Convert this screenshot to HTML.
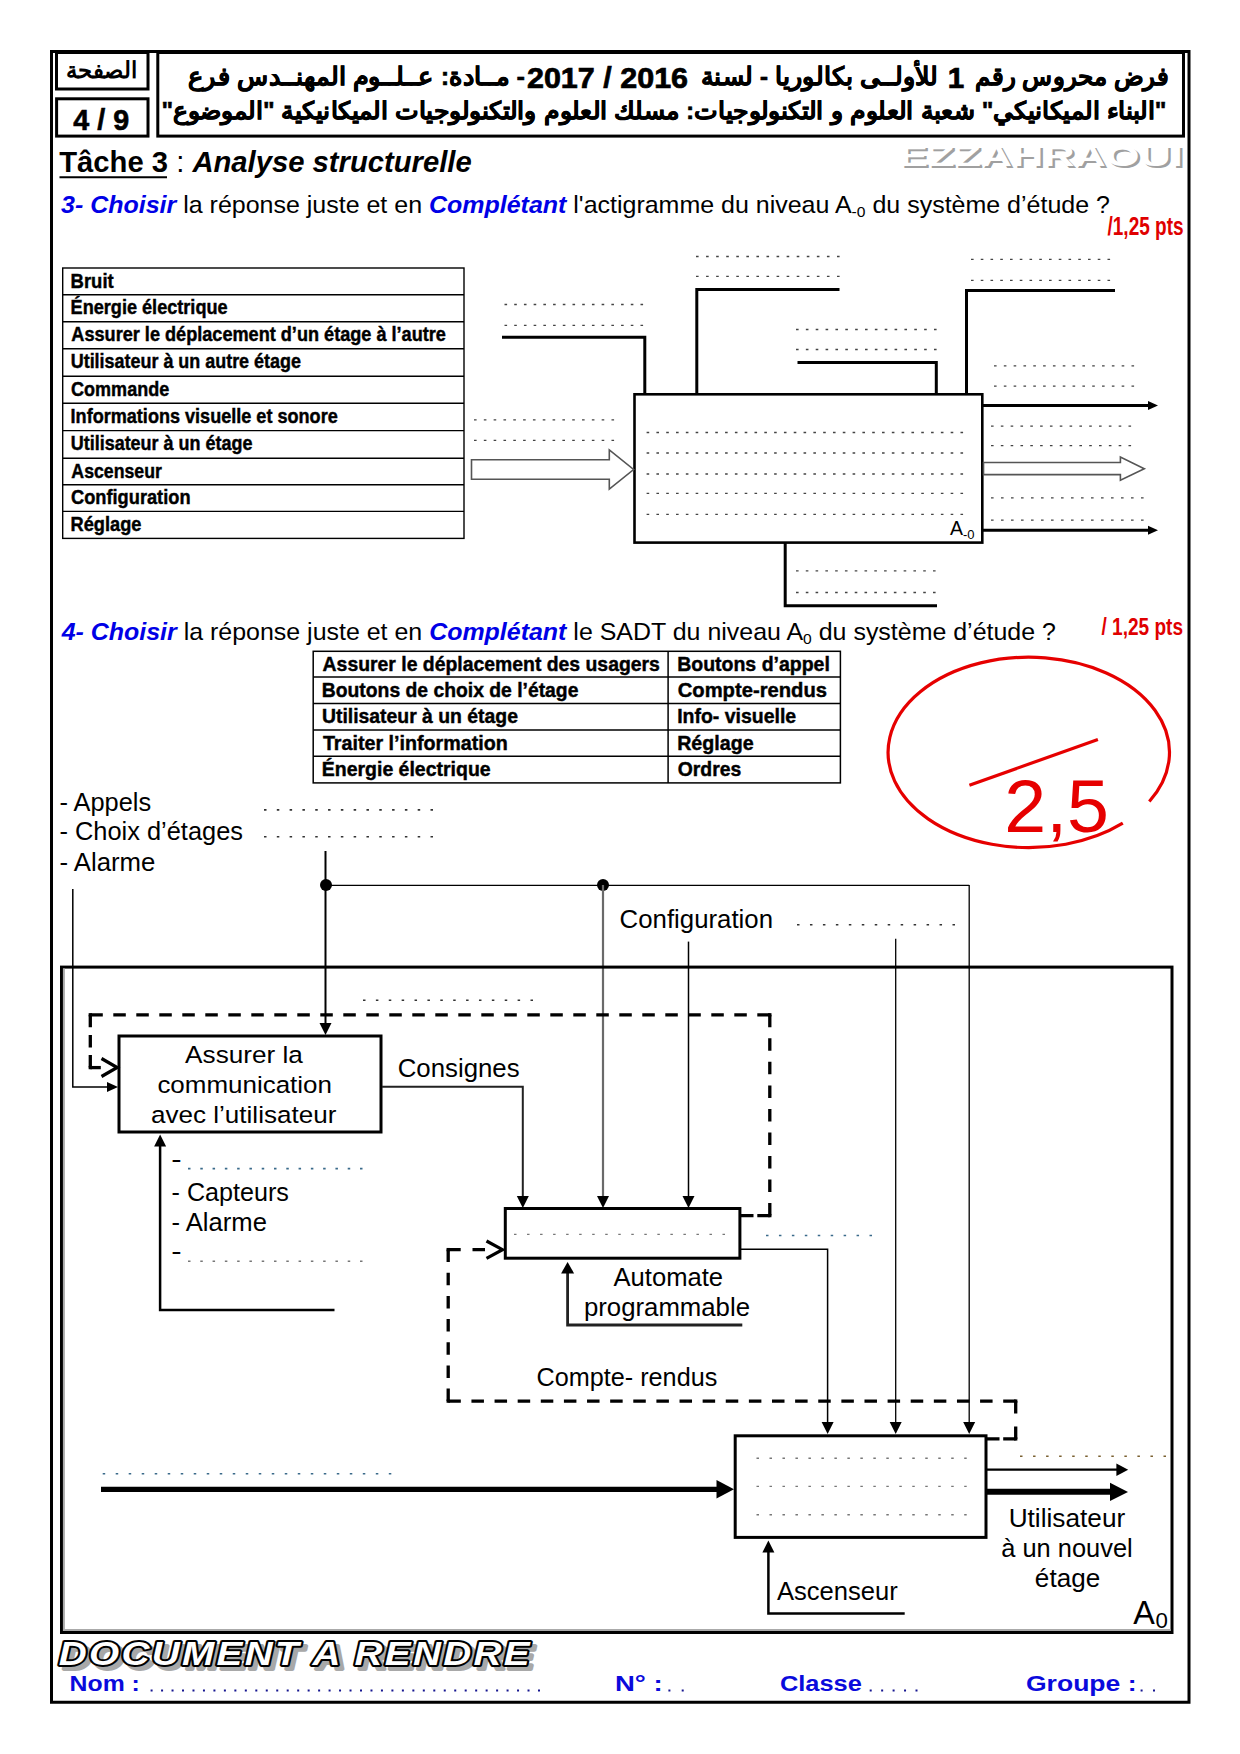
<!DOCTYPE html>
<html><head><meta charset="utf-8">
<style>
*{margin:0;padding:0}
html,body{width:1240px;height:1754px;background:#fff;overflow:hidden}
body{position:relative;font-family:"Liberation Sans",sans-serif}
svg{position:absolute;left:0;top:0}
</style></head><body>
<svg width="1240" height="1754" viewBox="0 0 1240 1754">
<rect x="51.5" y="51.5" width="1137.50" height="1650.75" fill="none" stroke="#000" stroke-width="3"/>
<rect x="56.5" y="52.5" width="91.50" height="36.50" fill="none" stroke="#000" stroke-width="3"/>
<rect x="56.6" y="98.8" width="91.40" height="37.30" fill="none" stroke="#000" stroke-width="3"/>
<rect x="157.8" y="52.5" width="1025.70" height="83.60" fill="none" stroke="#000" stroke-width="3"/>
<text x="66" y="78" font-size="23" font-weight="bold" font-family="Liberation Sans" textLength="71" lengthAdjust="spacingAndGlyphs" unicode-bidi="plaintext">الصفحة</text>
<text x="73.32" y="130" font-size="29.2" font-family="Liberation Sans" fill="#000" textLength="55.81" lengthAdjust="spacingAndGlyphs" stroke="#000" stroke-width="0.6"><tspan font-weight="bold" font-style="normal" >4 / 9</tspan></text>
<text x="975.3" y="84.5" font-size="25" font-weight="bold" font-family="Liberation Sans" textLength="193.4" lengthAdjust="spacingAndGlyphs" unicode-bidi="plaintext" stroke="#000" stroke-width="0.5">فرض محروس رقم</text>
<text x="947.8" y="87.7" font-size="29.6" font-weight="bold" font-style="normal" fill="#000" font-family="Liberation Sans" text-anchor="start" stroke="#000" stroke-width="0.7">1</text>
<text x="701.4" y="84.5" font-size="25" font-weight="bold" font-family="Liberation Sans" textLength="237.1" lengthAdjust="spacingAndGlyphs" unicode-bidi="plaintext" stroke="#000" stroke-width="0.5">للأولــى بكالوريا - لسنة</text>
<text x="526.93" y="87.6" font-size="29.6" font-family="Liberation Sans" fill="#000" textLength="161.15" lengthAdjust="spacingAndGlyphs" stroke="#000" stroke-width="0.7"><tspan font-weight="bold" font-style="normal" >2017 / 2016</tspan></text>
<text x="188" y="84.5" font-size="25" font-weight="bold" font-family="Liberation Sans" textLength="337.0" lengthAdjust="spacingAndGlyphs" unicode-bidi="plaintext" stroke="#000" stroke-width="0.5">- مــادة: عــلــوم المهنــدس فرع</text>
<text x="161.5" y="119.2" font-size="23.5" font-weight="bold" font-family="Liberation Sans" textLength="1005.0" lengthAdjust="spacingAndGlyphs" unicode-bidi="plaintext" stroke="#000" stroke-width="0.5">"البناء الميكانيكي" شعبة العلوم و التكنولوجيات: مسلك العلوم والتكنولوجيات الميكانيكية "الموضوع"</text>
<text x="59.21" y="171.8" font-size="29.4" font-family="Liberation Sans" fill="#000" textLength="412.52" lengthAdjust="spacingAndGlyphs" ><tspan font-weight="bold" font-style="normal" >Tâche 3</tspan><tspan font-weight="normal" font-style="normal" > : </tspan><tspan font-weight="bold" font-style="italic" >Analyse structurelle</tspan></text>
<line x1="59.5" y1="177.2" x2="167" y2="177.2" stroke="#000" stroke-width="2" />
<text x="61.06" y="212.8" font-size="24.8" font-family="Liberation Sans" fill="#000" textLength="1048.84" lengthAdjust="spacingAndGlyphs" ><tspan font-weight="bold" font-style="italic" fill="#0000e6">3- Choisir</tspan><tspan font-weight="normal" font-style="normal" > la réponse juste et en </tspan><tspan font-weight="bold" font-style="italic" fill="#0000e6">Complétant</tspan><tspan font-weight="normal" font-style="normal" > l'actigramme du niveau A</tspan><tspan font-weight="normal" font-style="normal" font-size="15.5" dy="4">-0</tspan><tspan font-weight="normal" font-style="normal" dy="-4"> du système d’étude ?</tspan></text>
<text x="61.68" y="639.5" font-size="24.8" font-family="Liberation Sans" fill="#000" textLength="994.22" lengthAdjust="spacingAndGlyphs" ><tspan font-weight="bold" font-style="italic" fill="#0000e6">4- Choisir</tspan><tspan font-weight="normal" font-style="normal" > la réponse juste et en </tspan><tspan font-weight="bold" font-style="italic" fill="#0000e6">Complétant</tspan><tspan font-weight="normal" font-style="normal" > le SADT du niveau A</tspan><tspan font-weight="normal" font-style="normal" font-size="15.5" dy="4">0</tspan><tspan font-weight="normal" font-style="normal" dy="-4"> du système d’étude ?</tspan></text>
<text x="1107.51" y="235.4" font-size="25" font-family="Liberation Sans" fill="#e00000" textLength="76.09" lengthAdjust="spacingAndGlyphs" ><tspan font-weight="bold" font-style="normal" >/1,25 pts</tspan></text>
<text x="1101.51" y="634.8" font-size="23" font-family="Liberation Sans" fill="#e00000" textLength="81.55" lengthAdjust="spacingAndGlyphs" ><tspan font-weight="bold" font-style="normal" >/ 1,25 pts</tspan></text>
<text x="901.58" y="168.3" font-size="30" font-family="Liberation Sans" fill="#a0a0a0" textLength="283.75" lengthAdjust="spacingAndGlyphs" ><tspan font-weight="bold" font-style="normal" >EZZAHRAOUI</tspan></text>
<text x="899.08" y="166" font-size="30" font-family="Liberation Sans" fill="#fff" textLength="283.75" lengthAdjust="spacingAndGlyphs" ><tspan font-weight="bold" font-style="normal" >EZZAHRAOUI</tspan></text>
<rect x="62.7" y="268" width="401.30" height="270.40" fill="none" stroke="#000" stroke-width="1.4"/>
<line x1="62.7" y1="294.7" x2="464" y2="294.7" stroke="#000" stroke-width="1.4" />
<line x1="62.7" y1="321.7" x2="464" y2="321.7" stroke="#000" stroke-width="1.4" />
<line x1="62.7" y1="348.8" x2="464" y2="348.8" stroke="#000" stroke-width="1.4" />
<line x1="62.7" y1="376.2" x2="464" y2="376.2" stroke="#000" stroke-width="1.4" />
<line x1="62.7" y1="403.2" x2="464" y2="403.2" stroke="#000" stroke-width="1.4" />
<line x1="62.7" y1="430.6" x2="464" y2="430.6" stroke="#000" stroke-width="1.4" />
<line x1="62.7" y1="458.3" x2="464" y2="458.3" stroke="#000" stroke-width="1.4" />
<line x1="62.7" y1="484.7" x2="464" y2="484.7" stroke="#000" stroke-width="1.4" />
<line x1="62.7" y1="511.4" x2="464" y2="511.4" stroke="#000" stroke-width="1.4" />
<text x="70.55" y="287.6" font-size="20.6" font-family="Liberation Sans" fill="#000" textLength="43.14" lengthAdjust="spacingAndGlyphs" stroke="#000" stroke-width="0.45"><tspan font-weight="bold" font-style="normal" >Bruit</tspan></text>
<text x="70.58" y="314.3" font-size="20.6" font-family="Liberation Sans" fill="#000" textLength="157.02" lengthAdjust="spacingAndGlyphs" stroke="#000" stroke-width="0.45"><tspan font-weight="bold" font-style="normal" >Énergie électrique</tspan></text>
<text x="71.35" y="341.3" font-size="20.6" font-family="Liberation Sans" fill="#000" textLength="374.58" lengthAdjust="spacingAndGlyphs" stroke="#000" stroke-width="0.45"><tspan font-weight="bold" font-style="normal" >Assurer le déplacement d’un étage à l’autre</tspan></text>
<text x="70.72" y="368.40000000000003" font-size="20.6" font-family="Liberation Sans" fill="#000" textLength="230.20" lengthAdjust="spacingAndGlyphs" stroke="#000" stroke-width="0.45"><tspan font-weight="bold" font-style="normal" >Utilisateur à un autre étage</tspan></text>
<text x="71.08" y="395.8" font-size="20.6" font-family="Liberation Sans" fill="#000" textLength="98.11" lengthAdjust="spacingAndGlyphs" stroke="#000" stroke-width="0.45"><tspan font-weight="bold" font-style="normal" >Commande</tspan></text>
<text x="70.58" y="422.8" font-size="20.6" font-family="Liberation Sans" fill="#000" textLength="267.14" lengthAdjust="spacingAndGlyphs" stroke="#000" stroke-width="0.45"><tspan font-weight="bold" font-style="normal" >Informations visuelle et sonore</tspan></text>
<text x="70.72" y="450.20000000000005" font-size="20.6" font-family="Liberation Sans" fill="#000" textLength="181.69" lengthAdjust="spacingAndGlyphs" stroke="#000" stroke-width="0.45"><tspan font-weight="bold" font-style="normal" >Utilisateur à un étage</tspan></text>
<text x="71.36" y="477.90000000000003" font-size="20.6" font-family="Liberation Sans" fill="#000" textLength="90.49" lengthAdjust="spacingAndGlyphs" stroke="#000" stroke-width="0.45"><tspan font-weight="bold" font-style="normal" >Ascenseur</tspan></text>
<text x="71.07" y="504.3" font-size="20.6" font-family="Liberation Sans" fill="#000" textLength="119.46" lengthAdjust="spacingAndGlyphs" stroke="#000" stroke-width="0.45"><tspan font-weight="bold" font-style="normal" >Configuration</tspan></text>
<text x="70.57" y="531.0" font-size="20.6" font-family="Liberation Sans" fill="#000" textLength="70.83" lengthAdjust="spacingAndGlyphs" stroke="#000" stroke-width="0.45"><tspan font-weight="bold" font-style="normal" >Réglage</tspan></text>
<polyline points="502,337.3 644.8,337.3 644.8,394" fill="none" stroke="#000" stroke-width="3" />
<polyline points="696.8,394 696.8,289.6 839.5,289.6" fill="none" stroke="#000" stroke-width="3" />
<polyline points="797.5,362.6 936.3,362.6 936.3,394" fill="none" stroke="#000" stroke-width="3" />
<polyline points="966.5,394 966.5,290.5 1115,290.5" fill="none" stroke="#000" stroke-width="3" />
<rect x="634.5" y="394.3" width="347.80" height="148.30" fill="none" stroke="#000" stroke-width="2.6"/>
<line x1="983" y1="405.5" x2="1150" y2="405.5" stroke="#000" stroke-width="3" />
<polygon points="1158.0,405.5 1148.0,401.0 1148.0,410.0" fill="#000"/>
<line x1="983" y1="530.3" x2="1150" y2="530.3" stroke="#000" stroke-width="3" />
<polygon points="1158.0,530.3 1148.0,525.8 1148.0,534.8" fill="#000"/>
<polygon points="983.5,462.5 1120.4,462.5 1120.4,457 1144.3,468.7 1120.4,480.3 1120.4,474.6 983.5,474.6" fill="#fff" stroke="#555" stroke-width="1.6"/>
<polygon points="471.5,459.8 609.3,459.8 609.3,449.9 633.6,469.5 609.3,489.1 609.3,479.3 471.5,479.3" fill="#fff" stroke="#555" stroke-width="1.6"/>
<polyline points="785.2,543 785.2,605.8 937,605.8" fill="none" stroke="#000" stroke-width="3" />
<text x="950" y="535" font-size="19.5" font-weight="normal" font-style="normal" fill="#000" font-family="Liberation Sans" text-anchor="start" >A</text>
<text x="963" y="539" font-size="13" font-weight="normal" font-style="normal" fill="#000" font-family="Liberation Sans" text-anchor="start" >-0</text>
<line x1="504.5" y1="304.5" x2="643.10" y2="304.5" stroke="#444" stroke-width="1.3" stroke-dasharray="2.6 7.114"/>
<line x1="504.5" y1="325.3" x2="643.10" y2="325.3" stroke="#444" stroke-width="1.3" stroke-dasharray="2.6 7.114"/>
<line x1="696" y1="256.5" x2="839.60" y2="256.5" stroke="#444" stroke-width="1.3" stroke-dasharray="2.6 7.471"/>
<line x1="696" y1="276.3" x2="839.60" y2="276.3" stroke="#444" stroke-width="1.3" stroke-dasharray="2.6 7.471"/>
<line x1="796" y1="329.5" x2="936.60" y2="329.5" stroke="#444" stroke-width="1.3" stroke-dasharray="2.6 7.257"/>
<line x1="796" y1="349.5" x2="936.60" y2="349.5" stroke="#444" stroke-width="1.3" stroke-dasharray="2.6 7.257"/>
<line x1="971" y1="259.3" x2="1110.10" y2="259.3" stroke="#444" stroke-width="1.3" stroke-dasharray="2.6 7.150"/>
<line x1="971" y1="280.3" x2="1110.10" y2="280.3" stroke="#444" stroke-width="1.3" stroke-dasharray="2.6 7.150"/>
<line x1="994" y1="365.8" x2="1134.10" y2="365.8" stroke="#444" stroke-width="1.3" stroke-dasharray="2.6 7.221"/>
<line x1="994" y1="386.2" x2="1134.10" y2="386.2" stroke="#444" stroke-width="1.3" stroke-dasharray="2.6 7.221"/>
<line x1="991" y1="426.2" x2="1131.10" y2="426.2" stroke="#444" stroke-width="1.3" stroke-dasharray="2.6 7.221"/>
<line x1="991" y1="445.7" x2="1131.10" y2="445.7" stroke="#444" stroke-width="1.3" stroke-dasharray="2.6 7.221"/>
<line x1="991" y1="497.9" x2="1143.60" y2="497.9" stroke="#444" stroke-width="1.3" stroke-dasharray="2.6 7.400"/>
<line x1="991" y1="520.2" x2="1143.60" y2="520.2" stroke="#444" stroke-width="1.3" stroke-dasharray="2.6 7.400"/>
<line x1="474" y1="419.9" x2="614.10" y2="419.9" stroke="#444" stroke-width="1.3" stroke-dasharray="2.6 7.221"/>
<line x1="474" y1="440.3" x2="614.10" y2="440.3" stroke="#444" stroke-width="1.3" stroke-dasharray="2.6 7.221"/>
<line x1="796" y1="570.9" x2="935.60" y2="570.9" stroke="#444" stroke-width="1.3" stroke-dasharray="2.6 7.186"/>
<line x1="796" y1="592.5" x2="935.60" y2="592.5" stroke="#444" stroke-width="1.3" stroke-dasharray="2.6 7.186"/>
<line x1="646.6" y1="432.5" x2="963.10" y2="432.5" stroke="#444" stroke-width="1.3" stroke-dasharray="2.6 7.209"/>
<line x1="646.6" y1="453" x2="963.10" y2="453" stroke="#444" stroke-width="1.3" stroke-dasharray="2.6 7.209"/>
<line x1="646.6" y1="474" x2="963.10" y2="474" stroke="#444" stroke-width="1.3" stroke-dasharray="2.6 7.209"/>
<line x1="646.6" y1="493.3" x2="963.10" y2="493.3" stroke="#444" stroke-width="1.3" stroke-dasharray="2.6 7.209"/>
<line x1="646.6" y1="514.3" x2="963.10" y2="514.3" stroke="#444" stroke-width="1.3" stroke-dasharray="2.6 7.209"/>
<rect x="313.2" y="651.3" width="527.20" height="131.60" fill="none" stroke="#000" stroke-width="1.5"/>
<line x1="313.2" y1="677" x2="840.4" y2="677" stroke="#000" stroke-width="1.5" />
<line x1="313.2" y1="703.5" x2="840.4" y2="703.5" stroke="#000" stroke-width="1.5" />
<line x1="313.2" y1="730" x2="840.4" y2="730" stroke="#000" stroke-width="1.5" />
<line x1="313.2" y1="756.2" x2="840.4" y2="756.2" stroke="#000" stroke-width="1.5" />
<line x1="668.1" y1="651.3" x2="668.1" y2="782.9" stroke="#000" stroke-width="1.5" />
<text x="322.62" y="671.1999999999999" font-size="21" font-family="Liberation Sans" fill="#000" textLength="337.26" lengthAdjust="spacingAndGlyphs" stroke="#000" stroke-width="0.45"><tspan font-weight="bold" font-style="normal" >Assurer le déplacement des usagers</tspan></text>
<text x="677.18" y="671.1999999999999" font-size="21" font-family="Liberation Sans" fill="#000" textLength="152.70" lengthAdjust="spacingAndGlyphs" stroke="#000" stroke-width="0.45"><tspan font-weight="bold" font-style="normal" >Boutons d’appel</tspan></text>
<text x="321.80" y="696.9" font-size="21" font-family="Liberation Sans" fill="#000" textLength="256.64" lengthAdjust="spacingAndGlyphs" stroke="#000" stroke-width="0.45"><tspan font-weight="bold" font-style="normal" >Boutons de choix de l’étage</tspan></text>
<text x="677.69" y="696.9" font-size="21" font-family="Liberation Sans" fill="#000" textLength="149.35" lengthAdjust="spacingAndGlyphs" stroke="#000" stroke-width="0.45"><tspan font-weight="bold" font-style="normal" >Compte-rendus</tspan></text>
<text x="321.94" y="723.4" font-size="21" font-family="Liberation Sans" fill="#000" textLength="196.02" lengthAdjust="spacingAndGlyphs" stroke="#000" stroke-width="0.45"><tspan font-weight="bold" font-style="normal" >Utilisateur à un étage</tspan></text>
<text x="677.19" y="723.4" font-size="21" font-family="Liberation Sans" fill="#000" textLength="118.95" lengthAdjust="spacingAndGlyphs" stroke="#000" stroke-width="0.45"><tspan font-weight="bold" font-style="normal" >Info- visuelle</tspan></text>
<text x="322.90" y="749.9" font-size="21" font-family="Liberation Sans" fill="#000" textLength="184.89" lengthAdjust="spacingAndGlyphs" stroke="#000" stroke-width="0.45"><tspan font-weight="bold" font-style="normal" >Traiter l’information</tspan></text>
<text x="677.17" y="749.9" font-size="21" font-family="Liberation Sans" fill="#000" textLength="76.47" lengthAdjust="spacingAndGlyphs" stroke="#000" stroke-width="0.45"><tspan font-weight="bold" font-style="normal" >Réglage</tspan></text>
<text x="321.79" y="776.1" font-size="21" font-family="Liberation Sans" fill="#000" textLength="168.85" lengthAdjust="spacingAndGlyphs" stroke="#000" stroke-width="0.45"><tspan font-weight="bold" font-style="normal" >Énergie électrique</tspan></text>
<text x="677.73" y="776.1" font-size="21" font-family="Liberation Sans" fill="#000" textLength="63.49" lengthAdjust="spacingAndGlyphs" stroke="#000" stroke-width="0.45"><tspan font-weight="bold" font-style="normal" >Ordres</tspan></text>
<path d="M1122.8,823.2 A140.7,95.2 0 1,1 1149.3,801.5" fill="none" stroke="#e60000" stroke-width="3.2"/>
<line x1="969.4" y1="785.3" x2="1097.9" y2="739.4" stroke="#e60000" stroke-width="3.2" />
<text x="1004.23" y="832.3" font-size="75" font-family="Liberation Sans" fill="#e60000" textLength="104.80" lengthAdjust="spacingAndGlyphs" ><tspan font-weight="normal" font-style="normal" >2,5</tspan></text>
<text x="59.46" y="810.5" font-size="25" font-family="Liberation Sans" fill="#000" textLength="91.65" lengthAdjust="spacingAndGlyphs" ><tspan font-weight="normal" font-style="normal" >- Appels</tspan></text>
<text x="59.46" y="840.2" font-size="25" font-family="Liberation Sans" fill="#000" textLength="183.50" lengthAdjust="spacingAndGlyphs" ><tspan font-weight="normal" font-style="normal" >- Choix d’étages</tspan></text>
<text x="59.44" y="870.5" font-size="25" font-family="Liberation Sans" fill="#000" textLength="95.87" lengthAdjust="spacingAndGlyphs" ><tspan font-weight="normal" font-style="normal" >- Alarme</tspan></text>
<line x1="264.0" y1="809.9" x2="433.00" y2="809.9" stroke="#333" stroke-width="1.6" stroke-dasharray="2.5 10.308"/>
<line x1="264.0" y1="836.7" x2="433.00" y2="836.7" stroke="#333" stroke-width="1.6" stroke-dasharray="2.5 10.308"/>
<line x1="325.5" y1="851" x2="325.5" y2="1024" stroke="#000" stroke-width="2" />
<polygon points="325.5,1035.0 319.5,1023.0 331.5,1023.0" fill="#000"/>
<circle cx="326" cy="885" r="6" fill="#000"/>
<circle cx="603" cy="885" r="6" fill="#000"/>
<line x1="326" y1="885.4" x2="969.2" y2="885.4" stroke="#000" stroke-width="1.2" />
<line x1="603" y1="885" x2="603" y2="1197" stroke="#6a6a6a" stroke-width="2.2" />
<polygon points="603.0,1208.0 597.0,1196.0 609.0,1196.0" fill="#000"/>
<line x1="969.2" y1="885" x2="969.2" y2="1423" stroke="#000" stroke-width="1.3" />
<polygon points="969.2,1434.0 963.2,1422.0 975.2,1422.0" fill="#000"/>
<text x="619.61" y="927.6" font-size="25" font-family="Liberation Sans" fill="#000" textLength="153.43" lengthAdjust="spacingAndGlyphs" ><tspan font-weight="normal" font-style="normal" >Configuration</tspan></text>
<line x1="797.0" y1="924.7" x2="955.00" y2="924.7" stroke="#333" stroke-width="1.6" stroke-dasharray="2.5 10.458"/>
<line x1="688.5" y1="941.6" x2="688.5" y2="1197" stroke="#000" stroke-width="1.5" />
<polygon points="688.5,1208.0 682.5,1196.0 694.5,1196.0" fill="#000"/>
<line x1="895.7" y1="938.8" x2="895.7" y2="1423" stroke="#000" stroke-width="1.3" />
<polygon points="895.7,1434.0 889.7,1422.0 901.7,1422.0" fill="#000"/>
<polyline points="72.8,889 72.8,1087 108,1087" fill="none" stroke="#000" stroke-width="1.5" />
<polygon points="118.0,1087.0 107.0,1082.0 107.0,1092.0" fill="#000"/>
<rect x="61.5" y="967.1" width="1110.50" height="665.40" fill="none" stroke="#000" stroke-width="3"/>
<line x1="63.9" y1="968.6" x2="63.9" y2="1631" stroke="#aaa" stroke-width="2" />
<line x1="63" y1="1630" x2="1170.5" y2="1630" stroke="#aaa" stroke-width="2" />
<rect x="119" y="1036" width="262.00" height="96.00" fill="none" stroke="#000" stroke-width="3"/>
<text x="185.13" y="1063.4" font-size="24.5" font-family="Liberation Sans" fill="#000" textLength="117.74" lengthAdjust="spacingAndGlyphs" ><tspan font-weight="normal" font-style="normal" >Assurer la</tspan></text>
<text x="157.40" y="1093.2" font-size="24.5" font-family="Liberation Sans" fill="#000" textLength="174.53" lengthAdjust="spacingAndGlyphs" ><tspan font-weight="normal" font-style="normal" >communication</tspan></text>
<text x="150.99" y="1123.3" font-size="24.5" font-family="Liberation Sans" fill="#000" textLength="185.39" lengthAdjust="spacingAndGlyphs" ><tspan font-weight="normal" font-style="normal" >avec l’utilisateur</tspan></text>
<line x1="363.0" y1="1000.3" x2="533.00" y2="1000.3" stroke="#333" stroke-width="1.6" stroke-dasharray="2.5 10.385"/>
<text x="397.71" y="1076.5" font-size="25" font-family="Liberation Sans" fill="#000" textLength="121.90" lengthAdjust="spacingAndGlyphs" ><tspan font-weight="normal" font-style="normal" >Consignes</tspan></text>
<polyline points="382,1086.8 522.8,1086.8 522.8,1197" fill="none" stroke="#222" stroke-width="2" />
<polygon points="522.8,1208.0 516.8,1196.0 528.8,1196.0" fill="#000"/>
<polyline points="334.5,1310 160.1,1310 160.1,1145" fill="none" stroke="#000" stroke-width="2.5" />
<polygon points="160.1,1134.5 154.1,1146.5 166.1,1146.5" fill="#000"/>
<text x="171.30" y="1168" font-size="25" font-family="Liberation Sans" fill="#000" textLength="10.33" lengthAdjust="spacingAndGlyphs" ><tspan font-weight="normal" font-style="normal" >-</tspan></text>
<line x1="188.0" y1="1168.6" x2="362.50" y2="1168.6" stroke="#3a6a8a" stroke-width="1.6" stroke-dasharray="2.5 9.786"/>
<text x="171.57" y="1200.8" font-size="25" font-family="Liberation Sans" fill="#000" textLength="117.24" lengthAdjust="spacingAndGlyphs" ><tspan font-weight="normal" font-style="normal" >- Capteurs</tspan></text>
<text x="171.55" y="1231.3" font-size="25" font-family="Liberation Sans" fill="#000" textLength="95.36" lengthAdjust="spacingAndGlyphs" ><tspan font-weight="normal" font-style="normal" >- Alarme</tspan></text>
<text x="171.30" y="1260" font-size="25" font-family="Liberation Sans" fill="#000" textLength="10.33" lengthAdjust="spacingAndGlyphs" ><tspan font-weight="normal" font-style="normal" >-</tspan></text>
<line x1="188.0" y1="1261.3" x2="362.50" y2="1261.3" stroke="#777" stroke-width="1.4" stroke-dasharray="2.5 9.786"/>
<line x1="741" y1="1215.6" x2="769.8" y2="1215.6" stroke="#000" stroke-width="3.3" stroke-dasharray="12.50 3.80" stroke-linecap="butt"/>
<line x1="769.8" y1="1215.6" x2="769.8" y2="1014.8" stroke="#000" stroke-width="3.3" stroke-dasharray="12.50 11.04" stroke-linecap="butt"/>
<line x1="769.8" y1="1014.8" x2="90.3" y2="1014.8" stroke="#000" stroke-width="3.3" stroke-dasharray="12.50 10.50" stroke-linecap="butt"/>
<line x1="90.3" y1="1014.8" x2="90.3" y2="1067.6" stroke="#000" stroke-width="3.3" stroke-dasharray="12.50 7.65" stroke-linecap="butt"/>
<line x1="90.3" y1="1067.6" x2="100.8" y2="1067.6" stroke="#000" stroke-width="3.3" stroke-dasharray="10.50 0.00" stroke-linecap="butt"/>
<rect x="768.15" y="1213.9499999999998" width="3.3" height="3.3" fill="#000"/>
<rect x="768.15" y="1013.15" width="3.3" height="3.3" fill="#000"/>
<rect x="88.64999999999999" y="1013.15" width="3.3" height="3.3" fill="#000"/>
<rect x="88.64999999999999" y="1065.9499999999998" width="3.3" height="3.3" fill="#000"/>
<polyline points="101.5,1058.5 117.2,1067.5 101.5,1076.5" fill="none" stroke="#000" stroke-width="3.2" />
<line x1="987" y1="1438.9" x2="1015.7" y2="1438.9" stroke="#000" stroke-width="3.3" stroke-dasharray="12.50 3.70" stroke-linecap="butt"/>
<line x1="1015.7" y1="1438.9" x2="1015.7" y2="1401.1" stroke="#000" stroke-width="3.3" stroke-dasharray="12.50 12.80" stroke-linecap="butt"/>
<line x1="1015.7" y1="1401.1" x2="448.2" y2="1401.1" stroke="#000" stroke-width="3.3" stroke-dasharray="12.50 10.62" stroke-linecap="butt"/>
<line x1="448.2" y1="1401.1" x2="448.2" y2="1249.6" stroke="#000" stroke-width="3.3" stroke-dasharray="12.50 10.67" stroke-linecap="butt"/>
<line x1="448.2" y1="1249.6" x2="485" y2="1249.6" stroke="#000" stroke-width="3.3" stroke-dasharray="12.50 11.80" stroke-linecap="butt"/>
<rect x="1014.0500000000001" y="1437.25" width="3.3" height="3.3" fill="#000"/>
<rect x="1014.0500000000001" y="1399.4499999999998" width="3.3" height="3.3" fill="#000"/>
<rect x="446.55" y="1399.4499999999998" width="3.3" height="3.3" fill="#000"/>
<rect x="446.55" y="1247.9499999999998" width="3.3" height="3.3" fill="#000"/>
<polyline points="486.5,1241 502.5,1249.7 486.5,1258.4" fill="none" stroke="#000" stroke-width="3.2" />
<rect x="505.3" y="1208.5" width="234.60" height="49.70" fill="none" stroke="#000" stroke-width="3"/>
<line x1="514.0" y1="1234.4" x2="725.00" y2="1234.4" stroke="#777" stroke-width="1.4" stroke-dasharray="2.5 10.531"/>
<line x1="766.0" y1="1235.5" x2="872.00" y2="1235.5" stroke="#3a6a8a" stroke-width="1.6" stroke-dasharray="2.5 10.438"/>
<polyline points="741,1249.3 827.6,1249.3 827.6,1423" fill="none" stroke="#000" stroke-width="1.5" />
<polygon points="827.6,1434.0 821.6,1422.0 833.6,1422.0" fill="#000"/>
<polyline points="742.3,1325 567.6,1325 567.6,1273" fill="none" stroke="#222" stroke-width="2.8" />
<polygon points="567.6,1261.9 561.1,1273.4 574.1,1273.4" fill="#000"/>
<text x="613.44" y="1286.3" font-size="25" font-family="Liberation Sans" fill="#000" textLength="109.66" lengthAdjust="spacingAndGlyphs" ><tspan font-weight="normal" font-style="normal" >Automate</tspan></text>
<text x="583.93" y="1315.6" font-size="25" font-family="Liberation Sans" fill="#000" textLength="166.07" lengthAdjust="spacingAndGlyphs" ><tspan font-weight="normal" font-style="normal" >programmable</tspan></text>
<text x="536.54" y="1386.1" font-size="25" font-family="Liberation Sans" fill="#000" textLength="180.75" lengthAdjust="spacingAndGlyphs" ><tspan font-weight="normal" font-style="normal" >Compte- rendus</tspan></text>
<rect x="735.2" y="1435.8" width="250.80" height="101.60" fill="none" stroke="#000" stroke-width="3"/>
<line x1="756.5" y1="1458.3" x2="966.70" y2="1458.3" stroke="#777" stroke-width="1.4" stroke-dasharray="2.5 10.481"/>
<line x1="756.5" y1="1486.4" x2="966.70" y2="1486.4" stroke="#777" stroke-width="1.4" stroke-dasharray="2.5 10.481"/>
<line x1="756.5" y1="1514.8" x2="966.70" y2="1514.8" stroke="#777" stroke-width="1.4" stroke-dasharray="2.5 10.481"/>
<line x1="101" y1="1489.4" x2="718" y2="1489.4" stroke="#000" stroke-width="5.2" />
<polygon points="734.0,1489.2 716.5,1480.0 716.5,1498.5" fill="#000"/>
<line x1="102.7" y1="1473.7" x2="391.30" y2="1473.7" stroke="#3a6a8a" stroke-width="1.6" stroke-dasharray="2.5 10.505"/>
<line x1="987" y1="1469.6" x2="1118" y2="1469.6" stroke="#000" stroke-width="2.2" />
<polygon points="1128.2,1469.8 1116.4,1463.6 1116.4,1476.0" fill="#000"/>
<line x1="987" y1="1491.8" x2="1112" y2="1491.8" stroke="#000" stroke-width="6" />
<polygon points="1128.0,1491.9 1110.0,1482.7 1110.0,1501.1" fill="#000"/>
<line x1="1020.0" y1="1456.3" x2="1166.00" y2="1456.3" stroke="#7a6030" stroke-width="1.6" stroke-dasharray="2.5 10.545"/>
<text x="1008.67" y="1526.8" font-size="25" font-family="Liberation Sans" fill="#000" textLength="116.55" lengthAdjust="spacingAndGlyphs" ><tspan font-weight="normal" font-style="normal" >Utilisateur</tspan></text>
<text x="1001.22" y="1556.7" font-size="25" font-family="Liberation Sans" fill="#000" textLength="131.46" lengthAdjust="spacingAndGlyphs" ><tspan font-weight="normal" font-style="normal" >à un nouvel</tspan></text>
<text x="1034.89" y="1587.3" font-size="25" font-family="Liberation Sans" fill="#000" textLength="65.32" lengthAdjust="spacingAndGlyphs" ><tspan font-weight="normal" font-style="normal" >étage</tspan></text>
<polyline points="904.7,1613.6 768.4,1613.6 768.4,1551" fill="none" stroke="#000" stroke-width="2.5" />
<polygon points="768.4,1540.5 762.4,1552.5 774.4,1552.5" fill="#000"/>
<text x="776.94" y="1599.8" font-size="25" font-family="Liberation Sans" fill="#000" textLength="120.94" lengthAdjust="spacingAndGlyphs" ><tspan font-weight="normal" font-style="normal" >Ascenseur</tspan></text>
<text x="1133.22" y="1624.1" font-size="34" font-family="Liberation Sans" fill="#000" textLength="21.55" lengthAdjust="spacingAndGlyphs" ><tspan font-weight="normal" font-style="normal" >A</tspan></text>
<text x="1155.46" y="1628" font-size="22" font-family="Liberation Sans" fill="#000" textLength="12.40" lengthAdjust="spacingAndGlyphs" ><tspan font-weight="normal" font-style="normal" >0</tspan></text>
<text transform="translate(63.2,1668.5) scale(1.25,1.06)" x="0" y="0" font-size="31" font-weight="bold" font-style="italic" font-family="Liberation Sans" letter-spacing="1.85" fill="#a8a8a8" stroke="#a8a8a8" stroke-width="3.6" stroke-linejoin="round" paint-order="stroke">DOCUMENT A RENDRE</text>
<text transform="translate(58.7,1664.5) scale(1.25,1.06)" x="0" y="0" font-size="31" font-weight="bold" font-style="italic" font-family="Liberation Sans" letter-spacing="1.85" fill="#fff" stroke="#000" stroke-width="3.6" stroke-linejoin="round" paint-order="stroke">DOCUMENT A RENDRE</text>
<text x="69.63" y="1691.3" font-size="22.7" font-family="Liberation Sans" fill="#0a0adc" textLength="70.24" lengthAdjust="spacingAndGlyphs" ><tspan font-weight="bold" font-style="normal" >Nom :</tspan></text>
<line x1="150.6" y1="1690.6" x2="540.00" y2="1690.6" stroke="#15158f" stroke-width="2" stroke-dasharray="2 8.470"/>
<text x="614.94" y="1691.3" font-size="22.7" font-family="Liberation Sans" fill="#0a0adc" textLength="47.68" lengthAdjust="spacingAndGlyphs" ><tspan font-weight="bold" font-style="normal" >N° :</tspan></text>
<line x1="668.4" y1="1690.6" x2="683.70" y2="1690.6" stroke="#15158f" stroke-width="2" stroke-dasharray="2 11.300"/>
<text x="779.98" y="1691.3" font-size="22.7" font-family="Liberation Sans" fill="#0a0adc" textLength="81.90" lengthAdjust="spacingAndGlyphs" ><tspan font-weight="bold" font-style="normal" >Classe</tspan></text>
<line x1="869.7" y1="1690.6" x2="917.50" y2="1690.6" stroke="#15158f" stroke-width="2" stroke-dasharray="2 9.450"/>
<text x="1025.94" y="1691.3" font-size="22.7" font-family="Liberation Sans" fill="#0a0adc" textLength="110.63" lengthAdjust="spacingAndGlyphs" ><tspan font-weight="bold" font-style="normal" >Groupe :</tspan></text>
<line x1="1140.6" y1="1690.6" x2="1155.00" y2="1690.6" stroke="#15158f" stroke-width="2" stroke-dasharray="2 10.400"/>
</svg>
</body></html>
